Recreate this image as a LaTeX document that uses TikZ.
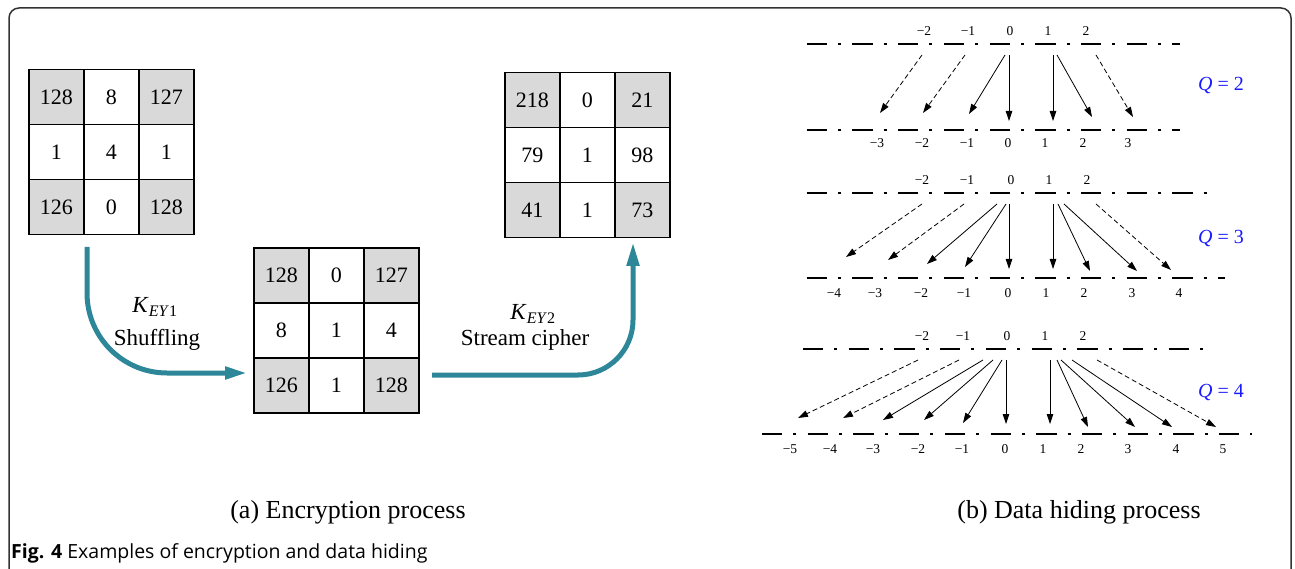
\documentclass[tikz,border=0pt]{standalone}
\usepackage{fontspec}
\setmainfont{Liberation Serif}
\newfontfamily\capfont{Open Sans}
\usetikzlibrary{arrows.meta,matrix,positioning}
\definecolor{cellgray}{HTML}{D9D9D9}
\definecolor{flowteal}{HTML}{2E8799}
\definecolor{frameink}{HTML}{333333}
\definecolor{qblue}{HTML}{1A1AFF}
\tikzset{
  cell/.style={draw,line width=1.3pt,minimum size=55pt,inner sep=0pt,anchor=center,
               font=\fontsize{22}{24}\selectfont},
  graycell/.style={fill=cellgray},
  cellgrid/.style={matrix of nodes,nodes={cell},column sep=-1.3pt,row sep=-1.3pt,
                   inner sep=0pt,anchor=north west},
  flow/.style={draw=flowteal,line width=5pt},
  keylab/.style={font=\fontsize{23}{25}\selectfont,inner sep=0pt},
  dotline/.style={line width=2.6pt,dash pattern=on 20.3pt off 11pt on 3pt off 11.4pt},
  num/.style={font=\fontsize{13.5}{14}\selectfont,inner sep=0pt},
  qlab/.style={text=qblue,font=\fontsize{20}{22}\selectfont,inner sep=0pt},
  moved/.style={line width=0.8pt,-{Triangle[length=10pt,width=6.5pt]}},
  hidden/.style={moved,dash pattern=on 5pt off 3pt},
  sub/.style={font=\fontsize{26}{28}\selectfont,inner sep=0pt}
}

\begin{document}
\begin{tikzpicture}[x=1pt,y=-1pt]
  \useasboundingbox (0,0) rectangle (1295,569);
  \draw[frameink,line width=1.5pt,rounded corners=10pt] (9,590) -- (9,8) -- (1291,8) -- (1291,590);

  % (a) encryption
  \matrix[cellgrid] (orig) at (28,69) {
    |[graycell]| 128 & 8 & |[graycell]| 127 \\
    1 & 4 & 1 \\
    |[graycell]| 126 & 0 & |[graycell]| 128 \\
  };
  \matrix[cellgrid] (shuf) at (253,247) {
    |[graycell]| 128 & 0 & |[graycell]| 127 \\
    8 & 1 & 4 \\
    |[graycell]| 126 & 1 & |[graycell]| 128 \\
  };
  \matrix[cellgrid] (enc) at (504,72) {
    |[graycell]| 218 & 0 & |[graycell]| 21 \\
    79 & 1 & 98 \\
    |[graycell]| 41 & 1 & |[graycell]| 73 \\
  };

  \coordinate (s1) at (87,247);
  \coordinate (e1) at (247,373);
  \coordinate (s2) at (432,375);
  \coordinate (e2) at (633,242);
  \draw[flow,rounded corners=80pt,-{Triangle[length=22pt,width=12pt]}] (s1) |- (e1);
  \draw[flow,rounded corners=55pt,-{Triangle[length=24pt,width=12pt]}] (s2) -| (e2);

  \node[keylab] (k1) at (155,307) {\textit{K}\textsubscript{\textit{EY}1}};
  \node[keylab] (shl) at (157,340) {Shuffling};
  \node[keylab] (k2) at (533,314) {\textit{K}\textsubscript{\textit{EY}2}};
  \node[keylab] (scl) at (525,340) {Stream cipher};

  % (b) data hiding
  \draw[dotline] (806.7,44) -- (1180,44);
  \draw[dotline] (806.7,130) -- (1180,130);
  \draw[dotline] (806.7,193) -- (1207,193);
  \draw[dotline] (806.7,278) -- (1225,278);
  \draw[dotline] (803,349) -- (1204,349);
  \draw[dotline] (762,434) -- (1252,434);

  \foreach \v/\x [count=\i] in {−2/924,−1/968,0/1010,1/1048,2/1086}
    \node[num] (qa\i) at (\x,31) {\v};
  \foreach \v/\x [count=\i] in {−3/877,−2/922,−1/967,0/1008,1/1045,2/1083,3/1128}
    \node[num] (qb\i) at (\x,143) {\v};
  \foreach \v/\x [count=\i] in {−2/922,−1/967,0/1011,1/1049,2/1087}
    \node[num] (qc\i) at (\x,180) {\v};
  \foreach \v/\x [count=\i] in {−4/834,−3/875,−2/921,−1/964,0/1008,1/1046,2/1084,3/1132,4/1179}
    \node[num] (qd\i) at (\x,293) {\v};
  \foreach \v/\x [count=\i] in {−2/922,−1/963,0/1007,1/1045,2/1083}
    \node[num] (qe\i) at (\x,336) {\v};
  \foreach \v/\x [count=\i] in {−5/790,−4/830,−3/873,−2/918,−1/962,0/1005,1/1043,2/1081,3/1128,4/1176,5/1223}
    \node[num] (qf\i) at (\x,449) {\v};

  % Q = 2
  \foreach \xa/\xb/\yb/\s in {922/880/113/hidden,965/923/113/hidden,1005/969/114/moved,
      1009/1009/121/moved,1053/1053/121/moved,1057/1092/117/moved,1096/1133/117/hidden}
    \draw[\s] (\xa,55) -- (\xb,\yb);
  % Q = 3
  \foreach \xa/\xb/\yb/\s in {922/846/257/hidden,964/888/260/hidden,997/927/264/moved,
      1006/965/267/moved,1009/1009/269/moved,1053/1053/269/moved,1058/1090/271/moved,
      1064/1137/271/moved,1096/1171/270/hidden}
    \draw[\s] (\xa,204) -- (\xb,\yb);
  % Q = 4
  \foreach \xa/\xb/\yb/\s in {918/798/418/hidden,959/843/418/hidden,983/883/420/moved,
      993/924/420/moved,1002/963/423/moved,1006/1006/424/moved,1050/1050/424/moved,
      1057/1088/427/moved,1061/1135/427/moved,1072/1172/427/moved,1097/1216/427/hidden}
    \draw[\s] (\xa,360) -- (\xb,\yb);

  \node[qlab] (q2) at (1221,86) {\textit{Q} = 2};
  \node[qlab] (q3) at (1221,239) {\textit{Q} = 3};
  \node[qlab] (q4) at (1221,392) {\textit{Q} = 4};

  \node[sub] (capa) at (348,512) {(a) Encryption process};
  \node[sub] (capb) at (1079,512) {(b) Data hiding process};
  \node[anchor=west,inner sep=0pt,font=\capfont\fontsize{19.5}{21}\selectfont] (fig) at (11,553)
    {\textbf{Fig. 4} Examples of encryption and data hiding};
\end{tikzpicture}
\end{document}
